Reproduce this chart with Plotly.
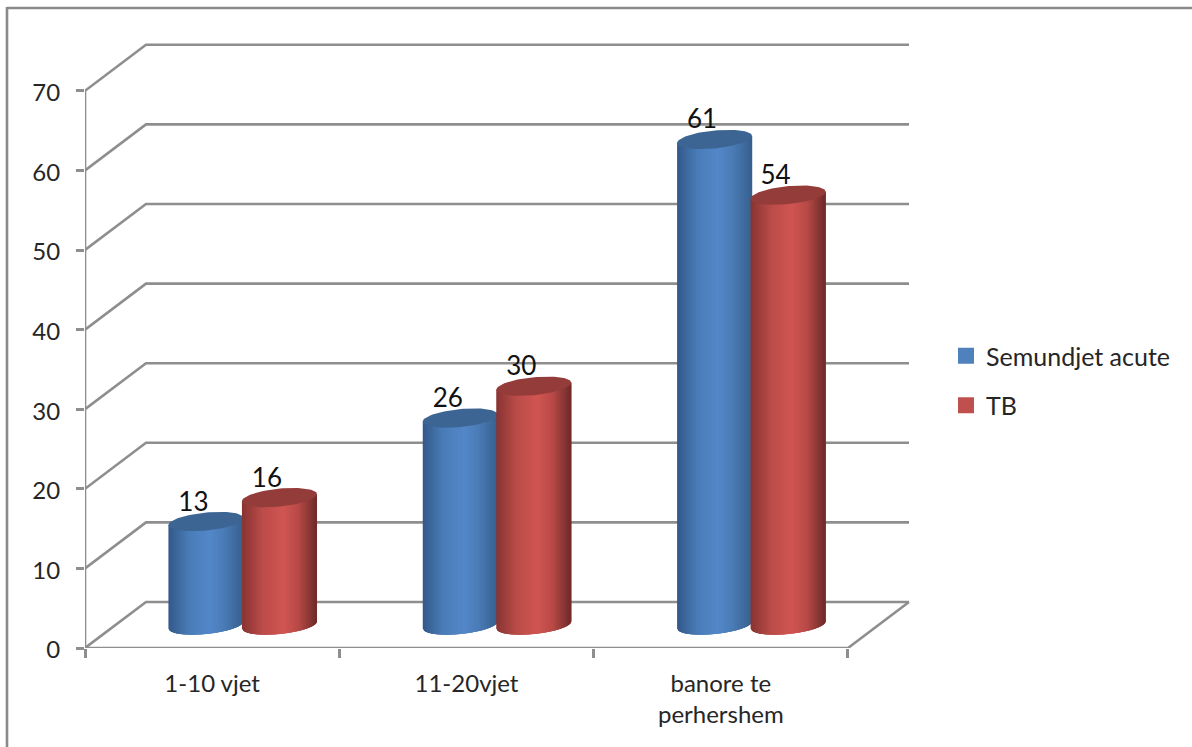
import numpy as np
import plotly.graph_objects as go

# Chart data
categories = ["1-10 vjet", "11-20vjet", "banore te<br>perhershem"]
series_names = ["Semundjet acute", "TB"]
semundjet_acute = [13, 26, 61]
tb = [16, 30, 54]
y_ticks = [0, 10, 20, 30, 40, 50, 60, 70]

# Scale of the axes on the page, in pixels
FIG_W, FIG_H = 1192, 747
LEFT, BOTTOM = 85, 648
PX_X = 254.33          # pixels per category
PX_Y = 7.96            # pixels per unit of value
RIGHT, TOP = 915, 40
DEPTH_X = 61 / PX_X    # oblique depth of the floor and back wall
DEPTH_Y = 46 / PX_Y
BAR_A = 37.5 / PX_X    # cylinder half width
BAR_GAP = 36.75 / PX_X # distance of each cylinder from the category centre
BAR_B = 9 / PX_Y       # cylinder cap half height
BAR_S = 3.5 / PX_Y     # tilt of the cap
N_STRIPS = 60

GRID = "#8e8e8e"
TEXT = "#262626"
FONT = "Lato"

BLUE = dict(
    key="#4f81bd", cap="#3c6594",
    stops=[(-1, "#33598a"), (-0.45, "#4a7cb8"), (0.1, "#5387c9"), (0.5, "#4a7bb5"), (1, "#375f8c")],
)
RED = dict(
    key="#c0504d", cap="#943c3a",
    stops=[(-1, "#873432"), (-0.45, "#bb4c49"), (0.1, "#d05552"), (0.5, "#b84a47"), (1, "#6d2a29")],
)


def hex_rgb(c):
    return np.array([int(c[i:i + 2], 16) for i in (1, 3, 5)], float)


def shade(stops, u):
    pos = [s[0] for s in stops]
    cols = np.array([hex_rgb(s[1]) for s in stops])
    r, g, b = (np.interp(u, pos, cols[:, i]) for i in range(3))
    return f"rgb({r:.0f},{g:.0f},{b:.0f})"


fig = go.Figure()


def add_line(xs, ys, width=2.6):
    fig.add_trace(go.Scatter(
        x=xs, y=ys, mode="lines", line=dict(color=GRID, width=width),
        cliponaxis=False, showlegend=False, hoverinfo="skip",
    ))


# Gridlines run from the value axis along the side wall and across the back wall
for v in y_ticks:
    add_line([0, DEPTH_X, 3 + DEPTH_X], [v, v + DEPTH_Y, v + DEPTH_Y])
# Axis lines and the right edge of the floor
add_line([0, 0], [0, 70])
add_line([0, 3, 3 + DEPTH_X], [0, 0, DEPTH_Y])


def add_cylinder(cx, value, style):
    top = value + DEPTH_Y / 2
    base = DEPTH_Y / 2
    edges = np.linspace(-1, 1, N_STRIPS + 1)
    step = edges[1] - edges[0]
    # Body: each strip reaches under the next ones, so the shading has no seams
    for u0 in edges[:-1]:
        us = np.linspace(u0, min(u0 + 3 * step, 1), 6)
        low = base + BAR_S * us - BAR_B * np.sqrt(np.clip(1 - us ** 2, 0, 1))
        high = top + BAR_S * us
        xs = np.concatenate([cx + BAR_A * us, cx + BAR_A * us[::-1]])
        ys = np.concatenate([low, high[::-1]])
        fig.add_trace(go.Scatter(
            x=xs, y=ys, mode="lines", fill="toself",
            fillcolor=shade(style["stops"], u0 + step / 2),
            line=dict(width=0), cliponaxis=False,
            showlegend=False, hoverinfo="skip",
        ))
    # Top cap
    t = np.linspace(0, 2 * np.pi, 90)
    fig.add_trace(go.Scatter(
        x=cx + BAR_A * np.cos(t),
        y=top + BAR_S * np.cos(t) + BAR_B * np.sin(t),
        mode="lines", fill="toself", fillcolor=style["cap"],
        line=dict(width=0), cliponaxis=False,
        showlegend=False, hoverinfo="skip",
    ))


label_x, label_y, label_text = [], [], []
for i in range(len(categories)):
    centre = i + 0.5 + DEPTH_X / 2
    for value, offset, style in (
        (semundjet_acute[i], -BAR_GAP, BLUE),
        (tb[i], BAR_GAP, RED),
    ):
        add_cylinder(centre + offset, value, style)
        label_x.append(centre + offset - 12.5 / PX_X)
        label_y.append(value + DEPTH_Y / 2 + 17.5 / PX_Y)
        label_text.append(str(value))

# Value labels above each cylinder
fig.add_trace(go.Scatter(
    x=label_x, y=label_y, text=label_text, mode="text",
    textposition="middle center",
    textfont=dict(family=FONT, size=26, color="#111111"),
    cliponaxis=False, showlegend=False, hoverinfo="skip",
))

# Legend entries
for j, (name, style) in enumerate(zip(series_names, (BLUE, RED))):
    fig.add_trace(go.Scatter(
        x=[None], y=[None], mode="markers", name=name, legendgroup=name,
        marker=dict(symbol="square", size=16, color=style["key"]),
    ))

# Outer frame of the chart, open at the right and bottom of the page
plot_w, plot_h = RIGHT - LEFT, BOTTOM - TOP
fx = lambda px: (px - LEFT) / plot_w
fy = lambda py: (BOTTOM - py) / plot_h
frame = dict(type="line", xref="paper", yref="paper", line=dict(color="#8a8a8a", width=2.6))
shapes = [
    dict(frame, x0=fx(7), x1=fx(FIG_W), y0=fy(8), y1=fy(8)),
    dict(frame, x0=fx(7), x1=fx(7), y0=fy(7), y1=fy(FIG_H)),
]

fig.update_layout(
    width=FIG_W, height=FIG_H,
    margin=dict(l=LEFT, r=FIG_W - RIGHT, t=TOP, b=FIG_H - BOTTOM, autoexpand=False),
    paper_bgcolor="white", plot_bgcolor="white",
    shapes=shapes,
    font=dict(family=FONT, color=TEXT),
    legend=dict(
        x=fx(953), y=fy(333), xanchor="left", yanchor="top",
        font=dict(family=FONT, size=25, color=TEXT),
        tracegroupgap=14, itemclick=False, itemdoubleclick=False,
        indentation=-7,
        bgcolor="rgba(0,0,0,0)",
    ),
    xaxis=dict(
        range=[0, (RIGHT - LEFT) / PX_X],
        tickmode="array",
        tickvals=[i + 0.5 for i in range(len(categories))],
        ticktext=categories,
        ticks="", showgrid=False, zeroline=False, showline=False,
        tickfont=dict(family=FONT, size=24, color=TEXT),
        ticklabelstandoff=19,
        minor=dict(
            tickmode="array", tickvals=list(range(len(categories) + 1)),
            ticks="outside", ticklen=9, tickwidth=2.6, tickcolor=GRID, showgrid=False,
        ),
    ),
    yaxis=dict(
        range=[0, (BOTTOM - TOP) / PX_Y],
        tickmode="array", tickvals=y_ticks,
        ticks="outside", ticklen=8, tickwidth=2.6, tickcolor=GRID,
        showgrid=False, zeroline=False, showline=False,
        tickfont=dict(family=FONT, size=24, color=TEXT),
        ticklabelstandoff=11,
        ticklabelshift=2,
    ),
)

fig.write_html("out.html", config=dict(displayModeBar=False))
